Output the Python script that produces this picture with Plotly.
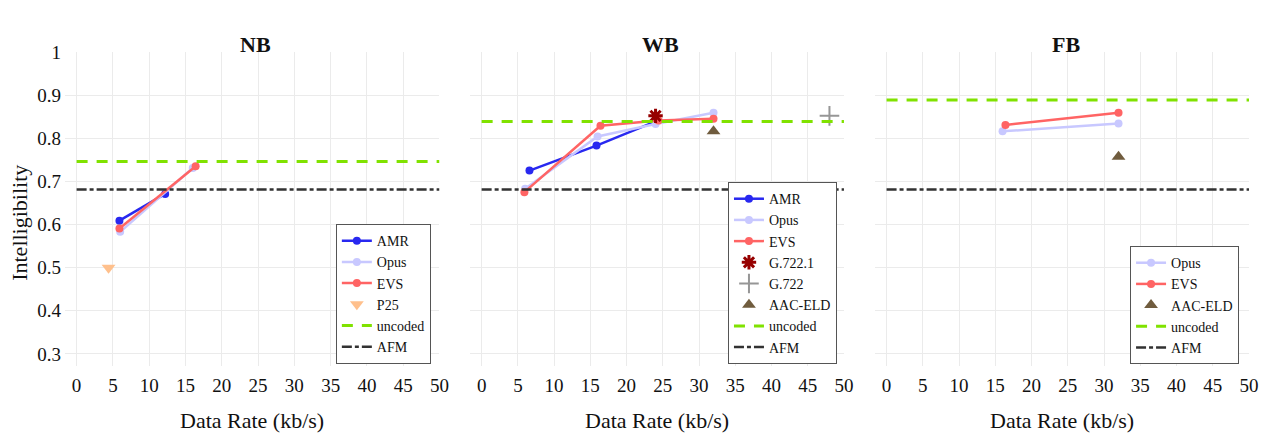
import plotly.graph_objects as go

# ---------------- data ----------------
# NB
nb_amr_x = [5.9, 12.2]
nb_amr_y = [0.609, 0.671]
nb_opus_x = [6, 16]
nb_opus_y = [0.583, 0.731]
nb_evs_x = [5.9, 16.4]
nb_evs_y = [0.591, 0.735]
nb_p25_x = [4.4]
nb_p25_y = [0.50]
nb_uncoded = 0.746
# WB
wb_amr_x = [6.6, 15.85, 23.85]
wb_amr_y = [0.725, 0.783, 0.838]
wb_opus_x = [6, 16, 24, 32]
wb_opus_y = [0.683, 0.804, 0.833, 0.859]
wb_evs_x = [5.9, 16.4, 24.4, 32]
wb_evs_y = [0.675, 0.829, 0.841, 0.845]
wb_g7221_x = [24]
wb_g7221_y = [0.852]
wb_g722_x = [48]
wb_g722_y = [0.852]
wb_aac_x = [32]
wb_aac_y = [0.816]
wb_uncoded = 0.839
# FB
fb_opus_x = [16, 32]
fb_opus_y = [0.816, 0.834]
fb_evs_x = [16.4, 32]
fb_evs_y = [0.831, 0.859]
fb_aac_x = [32]
fb_aac_y = [0.757]
fb_uncoded = 0.889
# common
afm_level = 0.681
line_x = [0, 50]
x_ticks = [0, 5, 10, 15, 20, 25, 30, 35, 40, 45, 50]
y_ticks = [0.3, 0.4, 0.5, 0.6, 0.7, 0.8, 0.9, 1]
panel_titles = ["NB", "WB", "FB"]

# ---------------- styles ----------------
FONT = "Liberation Serif"
C_AMR = "rgb(40,40,240)"
C_OPUS = "rgb(200,200,255)"
C_EVS = "rgb(255,100,100)"
C_P25 = "rgb(255,192,140)"
C_G7221 = "rgb(150,0,0)"
C_G722 = "rgb(150,150,150)"
C_AAC = "rgb(112,92,62)"
C_UNC = "rgb(128,226,0)"
C_AFM = "rgb(50,50,50)"

fig = go.Figure()

domains = [[0.0, 0.3163], [0.3421, 0.6579], [0.6841, 1.0]]
axes = [("x", "y", "legend"), ("x2", "y2", "legend2"), ("x3", "y3", "legend3")]


def line_trace(name, xs, ys, color, ax):
    xa, ya, lg = ax
    return go.Scatter(x=xs, y=ys, name=name, mode="lines+markers",
                      line=dict(color=color, width=2.5),
                      marker=dict(color=color, size=8),
                      xaxis=xa, yaxis=ya, legend=lg)


def point_trace(name, xs, ys, color, symbol, size, ax, lw=0):
    xa, ya, lg = ax
    return go.Scatter(x=xs, y=ys, name=name, mode="markers",
                      marker=dict(color=color, size=size, symbol=symbol,
                                  line=dict(color=color, width=lw)),
                      xaxis=xa, yaxis=ya, legend=lg)


def hline(name, level, color, dash, width, ax):
    xa, ya, lg = ax
    return go.Scatter(x=line_x, y=[level, level], name=name, mode="lines",
                      line=dict(color=color, width=width, dash=dash),
                      xaxis=xa, yaxis=ya, legend=lg)


UNC_DASH = "11px,9px"
AFM_DASH = "10px,3px,4px,3px"

# NB
a = axes[0]
fig.add_trace(line_trace("AMR", nb_amr_x, nb_amr_y, C_AMR, a))
fig.add_trace(line_trace("Opus", nb_opus_x, nb_opus_y, C_OPUS, a))
fig.add_trace(line_trace("EVS", nb_evs_x, nb_evs_y, C_EVS, a))
fig.add_trace(point_trace("P25", nb_p25_x, nb_p25_y, C_P25, "triangle-down", 12, a))
fig.add_trace(hline("uncoded", nb_uncoded, C_UNC, UNC_DASH, 3, a))
fig.add_trace(hline("AFM", afm_level, C_AFM, AFM_DASH, 2.5, a))

# WB
a = axes[1]
fig.add_trace(line_trace("AMR", wb_amr_x, wb_amr_y, C_AMR, a))
fig.add_trace(line_trace("Opus", wb_opus_x, wb_opus_y, C_OPUS, a))
fig.add_trace(line_trace("EVS", wb_evs_x, wb_evs_y, C_EVS, a))
fig.add_trace(point_trace("G.722.1", wb_g7221_x, wb_g7221_y, C_G7221, "asterisk-open", 12, a, lw=3))
fig.add_trace(point_trace("G.722", wb_g722_x, wb_g722_y, C_G722, "cross-thin-open", 14, a, lw=2))
fig.add_trace(point_trace("AAC-ELD", wb_aac_x, wb_aac_y, C_AAC, "triangle-up", 12, a))
fig.add_trace(hline("uncoded", wb_uncoded, C_UNC, UNC_DASH, 3, a))
fig.add_trace(hline("AFM", afm_level, C_AFM, AFM_DASH, 2.5, a))

# FB
a = axes[2]
fig.add_trace(line_trace("Opus", fb_opus_x, fb_opus_y, C_OPUS, a))
fig.add_trace(line_trace("EVS", fb_evs_x, fb_evs_y, C_EVS, a))
fig.add_trace(point_trace("AAC-ELD", fb_aac_x, fb_aac_y, C_AAC, "triangle-up", 12, a))
fig.add_trace(hline("uncoded", fb_uncoded, C_UNC, UNC_DASH, 3, a))
fig.add_trace(hline("AFM", afm_level, C_AFM, AFM_DASH, 2.5, a))

axis_common = dict(showgrid=True, gridcolor="#ebebeb", gridwidth=1, zeroline=False,
                   showline=False, ticks="", tickfont=dict(family=FONT, size=19, color="#111"))

layout = dict(
    width=1270, height=442,
    margin=dict(l=65, r=21, t=52, b=76),
    paper_bgcolor="white", plot_bgcolor="white",
    font=dict(family=FONT, color="#111"),
)
for i, (xa, ya, lg) in enumerate(axes):
    xkey = "xaxis" if i == 0 else f"xaxis{i+1}"
    ykey = "yaxis" if i == 0 else f"yaxis{i+1}"
    layout[xkey] = dict(axis_common, domain=domains[i], range=[-1.6, 50],
                        tickvals=x_ticks, anchor=ya, ticklabelstandoff=6)
    layout[ykey] = dict(axis_common, domain=[0, 1], range=[0.272, 1.0],
                        tickvals=y_ticks, anchor=xa, showticklabels=(i == 0),
                        ticklabelstandoff=3)
legend_x = [0.309, 0.652, 0.9916]
for i, lg in enumerate(["legend", "legend2", "legend3"]):
    layout[lg] = dict(x=legend_x[i], y=0.006, xanchor="right", yanchor="bottom",
                      bgcolor="white", bordercolor="#555", borderwidth=1,
                      font=dict(family=FONT, size=14, color="#111"),
                      tracegroupgap=0)
fig.update_layout(**layout)

annotations = []
for i, t in enumerate(panel_titles):
    cx = (domains[i][0] + domains[i][1]) / 2
    annotations.append(dict(text=f"<b>{t}</b>", x=cx + 0.003, y=1.025, xref="paper", yref="paper",
                            xanchor="center", yanchor="middle", showarrow=False,
                            font=dict(family=FONT, size=22, color="#111")))
    annotations.append(dict(text="Data Rate (kb/s)", x=cx, y=-0.173, xref="paper", yref="paper",
                            xanchor="center", yanchor="middle", showarrow=False,
                            font=dict(family=FONT, size=22, color="#111")))
annotations.append(dict(text="Intelligibility", x=-0.038, y=0.456, xref="paper", yref="paper",
                        xanchor="center", yanchor="middle", textangle=-90, showarrow=False,
                        font=dict(family=FONT, size=22, color="#111")))
fig.update_layout(annotations=annotations)

fig.write_html("out.html")
